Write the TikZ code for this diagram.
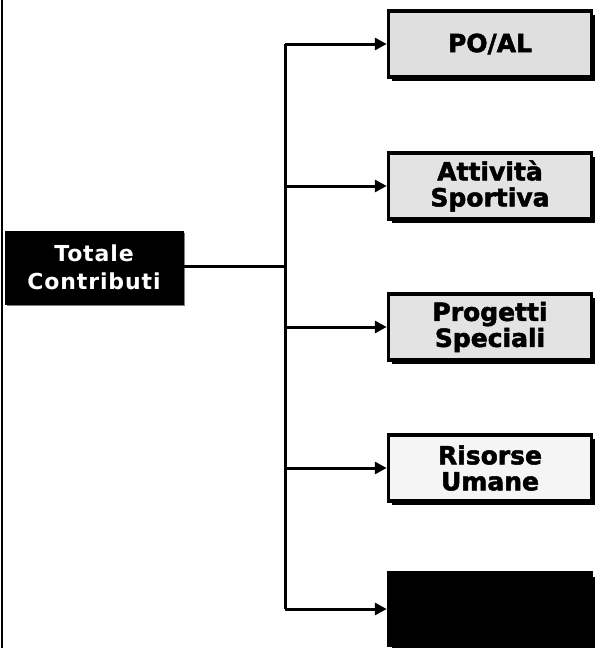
\documentclass[tikz,border=0pt]{standalone}
\usepackage{fontspec}
\setmainfont{DejaVu Sans}
\newfontfamily\boxfont[LetterSpace=4]{DejaVu Sans}
\newfontfamily\heavyfont[FakeBold=2]{DejaVu Sans Bold}
\usetikzlibrary{arrows.meta,shadows}
\tikzset{
  px/.style={x=1pt,y=-1pt},
  leafbox/.style={draw=black, line width=3.5pt, minimum width=203pt, minimum height=66pt,
    align=center, font=\heavyfont\fontsize{25}{26}\selectfont, inner sep=0pt,
    drop shadow={shadow xshift=3pt, shadow yshift=-3.5pt, fill=black, opacity=1}},
  rootbox/.style={fill=black, draw=black, minimum width=178pt, minimum height=73pt,
    align=center, text=white, font=\boxfont\bfseries\fontsize{22}{28}\selectfont, inner sep=0pt,
    drop shadow={shadow xshift=2pt, shadow yshift=-2pt, fill=gray, opacity=1}},
  conn/.style={line width=3pt},
  arr/.style={line width=3pt, -{Triangle[length=12pt,width=12pt]}}
}
\begin{document}
\begin{tikzpicture}[px]
\useasboundingbox (0,0) rectangle (596,648);
\fill[white] (0,0) rectangle (596,648);
\draw[line width=2pt] (1.5,0) -- (1.5,648);
\node[rootbox] (root) at (94,267.5) {Totale\\Contributi};
\node[leafbox, fill=gray!25] (b1) at (490,44) {PO/AL};
\node[leafbox, fill=gray!22] (b2) at (490,186) {Attività\\Sportiva};
\node[leafbox, fill=gray!22] (b3) at (490,327) {Progetti\\Speciali};
\node[leafbox, fill=gray!8] (b4) at (490,468) {Risorse\\Umane};
\node[leafbox, fill=black, minimum height=72pt] (b5) at (490,609) {};
\coordinate (j) at (285,266);
\coordinate (top) at (285,44);
\coordinate (bot) at (285,609);
\draw[conn] (root.east |- j) -- (j);
\draw[conn] (top) -- (bot);
\draw[arr] (top) -- (b1.west);
\draw[arr] (285,186) -- (b2.west);
\draw[arr] (285,327) -- (b3.west);
\draw[arr] (285,468) -- (b4.west);
\draw[arr] (bot) -- (b5.west);
\end{tikzpicture}
\end{document}
